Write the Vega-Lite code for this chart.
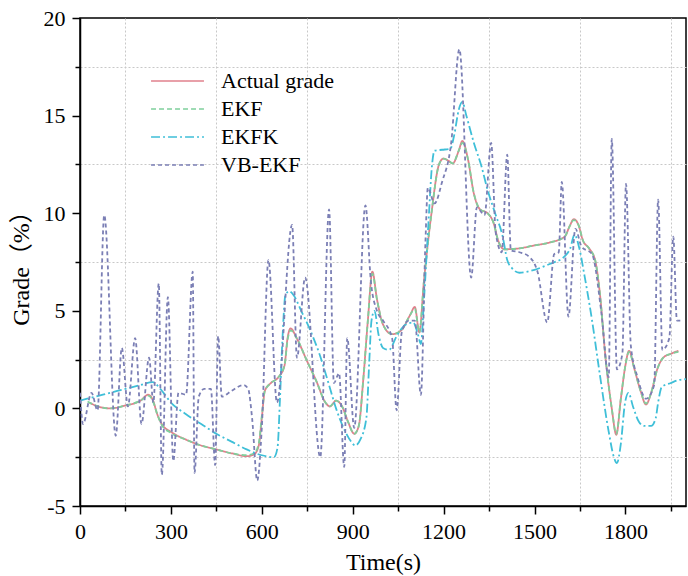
{
  "$schema": "https://vega.github.io/schema/vega-lite/v6.json",
  "width": 606,
  "height": 488,
  "autosize": {"type": "none"},
  "padding": {"left": 80, "top": 18, "right": 2, "bottom": 70},
  "background": "white",
  "config": {
    "font": "'Liberation Serif', 'Times New Roman', 'DejaVu Serif', serif",
    "view": {"stroke": "black", "strokeWidth": 1.5},
    "axis": {"labelFont": "'Liberation Serif', 'Times New Roman', 'DejaVu Serif', serif", "titleFont": "'Liberation Serif', 'Times New Roman', 'Noto Sans CJK SC', serif", "labelColor": "black", "titleColor": "black", "domainColor": "black", "domainWidth": 1.5, "tickColor": "black", "tickWidth": 1.5, "labelFontSize": 22, "titleFontSize": 24, "titleFontWeight": "normal"},
    "legend": {"labelFont": "'Liberation Serif', 'Times New Roman', 'DejaVu Serif', serif", "labelFontSize": 22, "labelColor": "black", "symbolType": "stroke", "symbolSize": 2800, "symbolStrokeWidth": 1.6, "clipHeight": 22, "rowPadding": 6, "labelOffset": 16}
  },
  "data": {"values": [
    {"s":"Actual grade","t":30,"g":0.3},{"s":"Actual grade","t":60,"g":0.1},{"s":"Actual grade","t":100,"g":0.0},{"s":"Actual grade","t":150,"g":0.15},{"s":"Actual grade","t":200,"g":0.4},{"s":"Actual grade","t":225,"g":0.7},{"s":"Actual grade","t":240,"g":0.45},{"s":"Actual grade","t":255,"g":-0.3},{"s":"Actual grade","t":270,"g":-0.8},{"s":"Actual grade","t":300,"g":-1.2},{"s":"Actual grade","t":350,"g":-1.6},{"s":"Actual grade","t":400,"g":-1.9},{"s":"Actual grade","t":450,"g":-2.1},{"s":"Actual grade","t":500,"g":-2.3},{"s":"Actual grade","t":550,"g":-2.45},{"s":"Actual grade","t":575,"g":-2.35},{"s":"Actual grade","t":590,"g":-1.9},{"s":"Actual grade","t":600,"g":-0.5},{"s":"Actual grade","t":610,"g":0.9},{"s":"Actual grade","t":630,"g":1.3},{"s":"Actual grade","t":655,"g":1.6},{"s":"Actual grade","t":675,"g":2.2},{"s":"Actual grade","t":685,"g":3.6},{"s":"Actual grade","t":695,"g":4.1},{"s":"Actual grade","t":715,"g":3.6},{"s":"Actual grade","t":750,"g":2.4},{"s":"Actual grade","t":780,"g":1.4},{"s":"Actual grade","t":810,"g":0.3},{"s":"Actual grade","t":825,"g":0.1},{"s":"Actual grade","t":845,"g":0.4},{"s":"Actual grade","t":865,"g":0.1},{"s":"Actual grade","t":885,"g":-0.7},{"s":"Actual grade","t":905,"g":-1.3},{"s":"Actual grade","t":920,"g":-0.9},{"s":"Actual grade","t":935,"g":1.5},{"s":"Actual grade","t":950,"g":4.5},{"s":"Actual grade","t":965,"g":7.0},{"s":"Actual grade","t":980,"g":5.6},{"s":"Actual grade","t":1000,"g":4.3},{"s":"Actual grade","t":1030,"g":3.8},{"s":"Actual grade","t":1060,"g":4.0},{"s":"Actual grade","t":1090,"g":4.8},{"s":"Actual grade","t":1105,"g":5.2},{"s":"Actual grade","t":1120,"g":3.9},{"s":"Actual grade","t":1135,"g":6.5},{"s":"Actual grade","t":1160,"g":10.0},{"s":"Actual grade","t":1185,"g":12.5},{"s":"Actual grade","t":1200,"g":12.8},{"s":"Actual grade","t":1215,"g":12.7},{"s":"Actual grade","t":1230,"g":12.55},{"s":"Actual grade","t":1250,"g":13.2},{"s":"Actual grade","t":1262,"g":13.7},{"s":"Actual grade","t":1280,"g":12.8},{"s":"Actual grade","t":1300,"g":11.0},{"s":"Actual grade","t":1320,"g":10.2},{"s":"Actual grade","t":1345,"g":10.0},{"s":"Actual grade","t":1365,"g":9.5},{"s":"Actual grade","t":1380,"g":8.6},{"s":"Actual grade","t":1400,"g":8.15},{"s":"Actual grade","t":1450,"g":8.2},{"s":"Actual grade","t":1500,"g":8.35},{"s":"Actual grade","t":1550,"g":8.5},{"s":"Actual grade","t":1600,"g":8.8},{"s":"Actual grade","t":1615,"g":9.3},{"s":"Actual grade","t":1630,"g":9.7},{"s":"Actual grade","t":1645,"g":9.4},{"s":"Actual grade","t":1660,"g":8.6},{"s":"Actual grade","t":1680,"g":8.2},{"s":"Actual grade","t":1700,"g":7.6},{"s":"Actual grade","t":1715,"g":6.0},{"s":"Actual grade","t":1735,"g":2.5},{"s":"Actual grade","t":1755,"g":0.0},{"s":"Actual grade","t":1770,"g":-1.35},{"s":"Actual grade","t":1785,"g":0.5},{"s":"Actual grade","t":1800,"g":2.2},{"s":"Actual grade","t":1812,"g":2.95},{"s":"Actual grade","t":1830,"g":2.0},{"s":"Actual grade","t":1850,"g":0.9},{"s":"Actual grade","t":1868,"g":0.2},{"s":"Actual grade","t":1885,"g":0.8},{"s":"Actual grade","t":1905,"g":2.0},{"s":"Actual grade","t":1925,"g":2.6},{"s":"Actual grade","t":1950,"g":2.8},{"s":"Actual grade","t":1975,"g":2.95},

    {"s":"EKF","t":25,"g":0.35},{"s":"EKF","t":60,"g":0.1},{"s":"EKF","t":100,"g":0.0},{"s":"EKF","t":150,"g":0.15},{"s":"EKF","t":200,"g":0.4},{"s":"EKF","t":225,"g":0.65},{"s":"EKF","t":240,"g":0.4},{"s":"EKF","t":255,"g":-0.3},{"s":"EKF","t":270,"g":-0.85},{"s":"EKF","t":300,"g":-1.25},{"s":"EKF","t":350,"g":-1.6},{"s":"EKF","t":400,"g":-1.9},{"s":"EKF","t":450,"g":-2.1},{"s":"EKF","t":500,"g":-2.3},{"s":"EKF","t":550,"g":-2.4},{"s":"EKF","t":575,"g":-2.3},{"s":"EKF","t":590,"g":-1.8},{"s":"EKF","t":600,"g":-0.4},{"s":"EKF","t":610,"g":0.9},{"s":"EKF","t":630,"g":1.3},{"s":"EKF","t":655,"g":1.6},{"s":"EKF","t":675,"g":2.2},{"s":"EKF","t":685,"g":3.5},{"s":"EKF","t":695,"g":4.0},{"s":"EKF","t":715,"g":3.6},{"s":"EKF","t":750,"g":2.4},{"s":"EKF","t":780,"g":1.4},{"s":"EKF","t":810,"g":0.3},{"s":"EKF","t":825,"g":0.1},{"s":"EKF","t":845,"g":0.4},{"s":"EKF","t":865,"g":0.1},{"s":"EKF","t":885,"g":-0.7},{"s":"EKF","t":905,"g":-1.3},{"s":"EKF","t":920,"g":-0.9},{"s":"EKF","t":935,"g":1.5},{"s":"EKF","t":950,"g":4.5},{"s":"EKF","t":965,"g":6.9},{"s":"EKF","t":980,"g":5.6},{"s":"EKF","t":1000,"g":4.3},{"s":"EKF","t":1030,"g":3.8},{"s":"EKF","t":1060,"g":4.0},{"s":"EKF","t":1090,"g":4.8},{"s":"EKF","t":1105,"g":5.1},{"s":"EKF","t":1120,"g":3.9},{"s":"EKF","t":1135,"g":6.5},{"s":"EKF","t":1160,"g":10.0},{"s":"EKF","t":1185,"g":12.5},{"s":"EKF","t":1200,"g":12.8},{"s":"EKF","t":1215,"g":12.7},{"s":"EKF","t":1230,"g":12.55},{"s":"EKF","t":1250,"g":13.2},{"s":"EKF","t":1262,"g":13.6},{"s":"EKF","t":1280,"g":12.8},{"s":"EKF","t":1300,"g":11.0},{"s":"EKF","t":1320,"g":10.2},{"s":"EKF","t":1345,"g":10.0},{"s":"EKF","t":1365,"g":9.5},{"s":"EKF","t":1380,"g":8.6},{"s":"EKF","t":1400,"g":8.15},{"s":"EKF","t":1450,"g":8.2},{"s":"EKF","t":1500,"g":8.35},{"s":"EKF","t":1550,"g":8.5},{"s":"EKF","t":1600,"g":8.8},{"s":"EKF","t":1615,"g":9.3},{"s":"EKF","t":1630,"g":9.65},{"s":"EKF","t":1645,"g":9.4},{"s":"EKF","t":1660,"g":8.6},{"s":"EKF","t":1680,"g":8.2},{"s":"EKF","t":1700,"g":7.6},{"s":"EKF","t":1715,"g":6.0},{"s":"EKF","t":1735,"g":2.5},{"s":"EKF","t":1755,"g":0.0},{"s":"EKF","t":1770,"g":-1.3},{"s":"EKF","t":1785,"g":0.5},{"s":"EKF","t":1800,"g":2.2},{"s":"EKF","t":1812,"g":2.9},{"s":"EKF","t":1830,"g":2.0},{"s":"EKF","t":1850,"g":0.9},{"s":"EKF","t":1868,"g":0.25},{"s":"EKF","t":1885,"g":0.8},{"s":"EKF","t":1905,"g":2.0},{"s":"EKF","t":1925,"g":2.6},{"s":"EKF","t":1950,"g":2.8},{"s":"EKF","t":1975,"g":2.9},

    {"s":"EKFK","t":0,"g":0.4},{"s":"EKFK","t":50,"g":0.6},{"s":"EKFK","t":100,"g":0.8},{"s":"EKFK","t":150,"g":1.0},{"s":"EKFK","t":200,"g":1.2},{"s":"EKFK","t":240,"g":1.35},{"s":"EKFK","t":265,"g":1.0},{"s":"EKFK","t":300,"g":0.3},{"s":"EKFK","t":350,"g":-0.3},{"s":"EKFK","t":400,"g":-0.8},{"s":"EKFK","t":450,"g":-1.3},{"s":"EKFK","t":500,"g":-1.7},{"s":"EKFK","t":550,"g":-2.1},{"s":"EKFK","t":600,"g":-2.4},{"s":"EKFK","t":640,"g":-2.5},{"s":"EKFK","t":652,"g":-2.0},{"s":"EKFK","t":660,"g":0.5},{"s":"EKFK","t":668,"g":3.5},{"s":"EKFK","t":678,"g":5.8},{"s":"EKFK","t":690,"g":6.0},{"s":"EKFK","t":705,"g":5.8},{"s":"EKFK","t":730,"g":5.0},{"s":"EKFK","t":760,"g":4.0},{"s":"EKFK","t":790,"g":2.8},{"s":"EKFK","t":820,"g":1.3},{"s":"EKFK","t":845,"g":0.0},{"s":"EKFK","t":870,"g":-1.0},{"s":"EKFK","t":895,"g":-1.7},{"s":"EKFK","t":908,"g":-1.9},{"s":"EKFK","t":925,"g":-1.6},{"s":"EKFK","t":945,"g":-0.5},{"s":"EKFK","t":955,"g":2.5},{"s":"EKFK","t":962,"g":4.5},{"s":"EKFK","t":972,"g":5.0},{"s":"EKFK","t":985,"g":3.8},{"s":"EKFK","t":1000,"g":3.1},{"s":"EKFK","t":1020,"g":3.0},{"s":"EKFK","t":1045,"g":3.7},{"s":"EKFK","t":1075,"g":4.3},{"s":"EKFK","t":1100,"g":4.4},{"s":"EKFK","t":1115,"g":3.8},{"s":"EKFK","t":1125,"g":3.3},{"s":"EKFK","t":1135,"g":5.5},{"s":"EKFK","t":1150,"g":9.5},{"s":"EKFK","t":1162,"g":12.5},{"s":"EKFK","t":1170,"g":13.2},{"s":"EKFK","t":1195,"g":13.25},{"s":"EKFK","t":1222,"g":13.3},{"s":"EKFK","t":1235,"g":14.0},{"s":"EKFK","t":1250,"g":15.3},{"s":"EKFK","t":1262,"g":15.7},{"s":"EKFK","t":1275,"g":15.0},{"s":"EKFK","t":1300,"g":13.6},{"s":"EKFK","t":1325,"g":12.4},{"s":"EKFK","t":1345,"g":11.2},{"s":"EKFK","t":1370,"g":10.0},{"s":"EKFK","t":1395,"g":8.8},{"s":"EKFK","t":1410,"g":7.6},{"s":"EKFK","t":1425,"g":7.2},{"s":"EKFK","t":1450,"g":6.95},{"s":"EKFK","t":1500,"g":7.1},{"s":"EKFK","t":1550,"g":7.4},{"s":"EKFK","t":1600,"g":7.8},{"s":"EKFK","t":1618,"g":8.2},{"s":"EKFK","t":1632,"g":8.9},{"s":"EKFK","t":1648,"g":8.2},{"s":"EKFK","t":1665,"g":6.8},{"s":"EKFK","t":1690,"g":4.5},{"s":"EKFK","t":1715,"g":1.8},{"s":"EKFK","t":1745,"g":-1.2},{"s":"EKFK","t":1762,"g":-2.5},{"s":"EKFK","t":1772,"g":-2.8},{"s":"EKFK","t":1785,"g":-1.8},{"s":"EKFK","t":1798,"g":0.2},{"s":"EKFK","t":1810,"g":0.8},{"s":"EKFK","t":1825,"g":0.1},{"s":"EKFK","t":1845,"g":-0.7},{"s":"EKFK","t":1862,"g":-0.9},{"s":"EKFK","t":1885,"g":-0.9},{"s":"EKFK","t":1900,"g":-0.5},{"s":"EKFK","t":1908,"g":0.3},{"s":"EKFK","t":1920,"g":1.1},{"s":"EKFK","t":1950,"g":1.3},{"s":"EKFK","t":1975,"g":1.45},{"s":"EKFK","t":2000,"g":1.5},

    {"s":"VB-EKF","t":0,"g":0.8},{"s":"VB-EKF","t":10,"g":-0.8},{"s":"VB-EKF","t":38,"g":0.8},{"s":"VB-EKF","t":58,"g":-0.1},{"s":"VB-EKF","t":80,"g":9.9},{"s":"VB-EKF","t":118,"g":-1.4},{"s":"VB-EKF","t":138,"g":3.1},{"s":"VB-EKF","t":158,"g":0.1},{"s":"VB-EKF","t":182,"g":3.6},{"s":"VB-EKF","t":203,"g":-0.8},{"s":"VB-EKF","t":228,"g":2.6},{"s":"VB-EKF","t":242,"g":0.3},{"s":"VB-EKF","t":260,"g":6.4},{"s":"VB-EKF","t":270,"g":-3.4},{"s":"VB-EKF","t":290,"g":5.7},{"s":"VB-EKF","t":308,"g":-2.7},{"s":"VB-EKF","t":325,"g":0.8},{"s":"VB-EKF","t":350,"g":0.7},{"s":"VB-EKF","t":372,"g":7.0},{"s":"VB-EKF","t":378,"g":-3.3},{"s":"VB-EKF","t":392,"g":0.6},{"s":"VB-EKF","t":410,"g":1.0},{"s":"VB-EKF","t":432,"g":1.0},{"s":"VB-EKF","t":446,"g":-2.9},{"s":"VB-EKF","t":456,"g":3.7},{"s":"VB-EKF","t":468,"g":0.6},{"s":"VB-EKF","t":500,"g":0.9},{"s":"VB-EKF","t":540,"g":1.2},{"s":"VB-EKF","t":555,"g":1.0},{"s":"VB-EKF","t":568,"g":-0.5},{"s":"VB-EKF","t":585,"g":-3.7},{"s":"VB-EKF","t":600,"g":-1.0},{"s":"VB-EKF","t":622,"g":7.6},{"s":"VB-EKF","t":650,"g":0.3},{"s":"VB-EKF","t":700,"g":9.4},{"s":"VB-EKF","t":716,"g":2.6},{"s":"VB-EKF","t":743,"g":6.7},{"s":"VB-EKF","t":793,"g":-2.5},{"s":"VB-EKF","t":822,"g":10.2},{"s":"VB-EKF","t":838,"g":1.3},{"s":"VB-EKF","t":855,"g":1.8},{"s":"VB-EKF","t":872,"g":-3.0},{"s":"VB-EKF","t":882,"g":3.6},{"s":"VB-EKF","t":905,"g":-1.0},{"s":"VB-EKF","t":942,"g":10.4},{"s":"VB-EKF","t":960,"g":6.5},{"s":"VB-EKF","t":980,"g":5.0},{"s":"VB-EKF","t":1000,"g":4.5},{"s":"VB-EKF","t":1030,"g":3.6},{"s":"VB-EKF","t":1045,"g":-0.1},{"s":"VB-EKF","t":1062,"g":3.9},{"s":"VB-EKF","t":1085,"g":4.5},{"s":"VB-EKF","t":1105,"g":4.5},{"s":"VB-EKF","t":1125,"g":0.7},{"s":"VB-EKF","t":1140,"g":8.5},{"s":"VB-EKF","t":1148,"g":11.3},{"s":"VB-EKF","t":1170,"g":10.5},{"s":"VB-EKF","t":1195,"g":11.6},{"s":"VB-EKF","t":1225,"g":13.6},{"s":"VB-EKF","t":1252,"g":18.4},{"s":"VB-EKF","t":1291,"g":6.7},{"s":"VB-EKF","t":1310,"g":10.3},{"s":"VB-EKF","t":1335,"g":9.9},{"s":"VB-EKF","t":1357,"g":13.6},{"s":"VB-EKF","t":1372,"g":9.0},{"s":"VB-EKF","t":1392,"g":8.0},{"s":"VB-EKF","t":1410,"g":13.0},{"s":"VB-EKF","t":1422,"g":8.1},{"s":"VB-EKF","t":1450,"g":8.0},{"s":"VB-EKF","t":1480,"g":7.8},{"s":"VB-EKF","t":1510,"g":7.0},{"s":"VB-EKF","t":1542,"g":4.4},{"s":"VB-EKF","t":1565,"g":7.9},{"s":"VB-EKF","t":1580,"g":8.0},{"s":"VB-EKF","t":1590,"g":11.6},{"s":"VB-EKF","t":1612,"g":4.7},{"s":"VB-EKF","t":1635,"g":9.2},{"s":"VB-EKF","t":1655,"g":8.3},{"s":"VB-EKF","t":1690,"g":7.9},{"s":"VB-EKF","t":1720,"g":5.0},{"s":"VB-EKF","t":1745,"g":1.6},{"s":"VB-EKF","t":1755,"g":13.8},{"s":"VB-EKF","t":1772,"g":2.0},{"s":"VB-EKF","t":1790,"g":2.8},{"s":"VB-EKF","t":1802,"g":11.5},{"s":"VB-EKF","t":1818,"g":3.2},{"s":"VB-EKF","t":1840,"g":1.6},{"s":"VB-EKF","t":1868,"g":0.5},{"s":"VB-EKF","t":1895,"g":1.2},{"s":"VB-EKF","t":1908,"g":10.7},{"s":"VB-EKF","t":1922,"g":3.0},{"s":"VB-EKF","t":1945,"g":3.6},{"s":"VB-EKF","t":1958,"g":8.8},{"s":"VB-EKF","t":1970,"g":4.5},{"s":"VB-EKF","t":1985,"g":4.5}
  ]},
  "mark": {"type": "line", "interpolate": "monotone", "strokeWidth": 1.8, "clip": true},
  "encoding": {
    "x": {"field": "t", "type": "quantitative", "title": "Time(s)",
      "scale": {"domain": [0, 2000], "nice": false, "zero": false},
      "axis": {"values": [0,150,300,450,600,750,900,1050,1200,1350,1500,1650,1800,1950],
        "labelExpr": "datum.value % 300 === 0 ? toString(datum.value) : ''",
        "tickSize": {"condition": {"test": "datum.value % 300 === 0", "value": 8}, "value": 5},
        "grid": true, "gridDash": [2, 2], "gridWidth": 1,
        "gridColor": {"condition": {"test": "datum.value % 300 === 0", "value": "rgba(255,255,255,0)"}, "value": "#c8c8c8"},
        "gridOpacity": {"condition": {"test": "datum.value % 300 === 0", "value": 0}, "value": 1},
        "labelPadding": 7, "titlePadding": 8, "labelFlush": false, "labelOverlap": false}},
    "y": {"field": "g", "type": "quantitative", "title": "Grade（%）",
      "scale": {"domain": [-5, 20], "nice": false, "zero": false},
      "axis": {"values": [-5,-2.5,0,2.5,5,7.5,10,12.5,15,17.5,20],
        "labelExpr": "datum.value % 5 === 0 ? toString(datum.value) : ''",
        "tickSize": {"condition": {"test": "datum.value % 5 === 0", "value": 8}, "value": 5},
        "grid": true, "gridDash": [2, 2], "gridWidth": 1,
        "gridColor": {"condition": {"test": "datum.value % 5 === 0", "value": "rgba(255,255,255,0)"}, "value": "#c8c8c8"},
        "gridOpacity": {"condition": {"test": "datum.value % 5 === 0", "value": 0}, "value": 1},
        "labelPadding": 7, "titlePadding": 10, "labelFlush": false, "labelOverlap": false}},
    "color": {"field": "s", "type": "nominal", "title": null,
      "scale": {"domain": ["Actual grade", "EKF", "EKFK", "VB-EKF"], "range": ["#e0808c", "#7fcf9c", "#3fbfd8", "#7b7fb5"]},
      "legend": {"orient": "none", "legendX": 70, "legendY": 52}},
    "strokeDash": {"field": "s", "type": "nominal", "title": null,
      "scale": {"domain": ["Actual grade", "EKF", "EKFK", "VB-EKF"], "range": [[1, 0], [5, 3], [9, 3, 2, 3], [4, 3]]},
      "legend": {"orient": "none", "legendX": 70, "legendY": 52}},
    "order": {"field": "t", "type": "quantitative"}
  }
}
